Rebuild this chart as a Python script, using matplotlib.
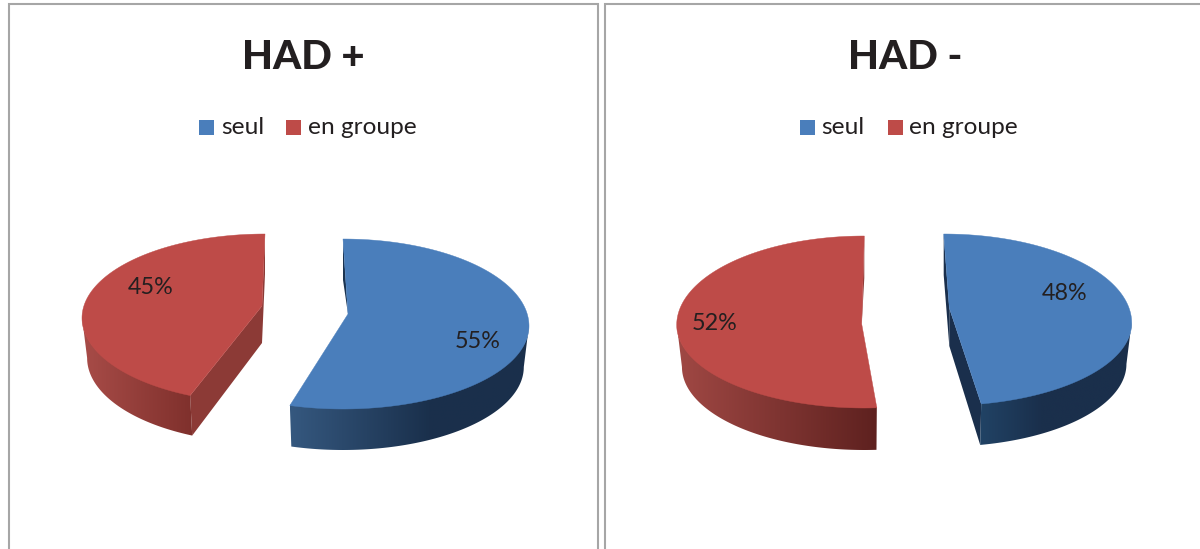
import numpy as np
import matplotlib
matplotlib.use("Agg")
import matplotlib.pyplot as plt
from matplotlib.colors import LinearSegmentedColormap
from matplotlib.patches import Polygon, Rectangle

plt.rcParams['font.family'] = ['Lato', 'DejaVu Sans']

titles = ["HAD +", "HAD -"]
categories = ["seul", "en groupe"]
seul_values = [55, 48]
groupe_values = [45, 52]

BLUE, RED = "#4a7ebb", "#be4b48"
INK = "#231f20"
GREY = "#a6a6a6"
BOTTOM_SHRINK = 0.972

fig = plt.figure(figsize=(12, 5.49), dpi=100, facecolor="white")
ax = fig.add_axes([0, 0, 1, 1])
ax.axis("off")


def arc(g, t, k=1.0):
    t = np.radians(t)
    r = np.where(np.cos(t) > 0, g["rt"], g["rb"])
    return g["cx"] + k * g["rx"] * np.sin(t), g["cy"] - r * np.cos(t)


def draw_slice(value, g, clockwise, face, stops, end_wall, start_wall, label_xy):
    span = 3.6 * value * g["sweep"]
    if clockwise:
        ts = np.linspace(0, span, 240)
        vis = np.linspace(90, span, 120)
    else:
        ts = np.linspace(-span, 0, 240)
        vis = np.linspace(-span, -90, 120)
    x, y = arc(g, ts)
    vx, vy = arc(g, vis)
    bx, by = arc(g, vis, BOTTOM_SHRINK)
    d = g["depth"]
    ax_, ay_ = g["apex"]

    # radial walls
    sx, sy = (float(v[0]) for v in arc(g, np.array([0.0])))
    if clockwise:
        ex, ey = float(x[-1]), float(y[-1])
        ebx = float(bx[-1])
    else:
        ex, ey = float(x[0]), float(y[0])
        ebx = float(bx[0])
    ax.add_patch(Polygon([(sx, sy), (sx, sy + d), (ax_, ay_ + g["apex_d"]), (ax_, ay_)],
                         closed=True, fc=start_wall, ec="none", zorder=2))
    if g["show_end"]:
        ax.add_patch(Polygon([(ax_, ay_), (ax_, ay_ + g["apex_d"]), (ebx, ey + d), (ex, ey)],
                             closed=True, fc=end_wall, ec="none", zorder=2))

    # curved wall: a horizontal gradient clipped to the wall outline
    cmap = LinearSegmentedColormap.from_list("wall", stops)
    outline = np.r_[np.c_[vx, vy - 1], np.c_[bx, by + d][::-1]]
    wall = Polygon(outline, closed=True, fc="none", ec="none", transform=ax.transData)
    ax.add_patch(wall)
    lo, hi = outline[:, 0].min(), outline[:, 0].max()
    im = ax.imshow(np.linspace(0, 1, 256).reshape(1, -1), cmap=cmap, vmin=0, vmax=1,
                   extent=(lo, hi, outline[:, 1].max(), outline[:, 1].min()),
                   aspect="auto", interpolation="bilinear", zorder=3)
    im.set_clip_path(wall)

    # top face
    ax.add_patch(Polygon(np.r_[np.c_[x, y], [[ax_, ay_]]], closed=True,
                         fc=face, ec=face, lw=0.3, zorder=4))
    ax.text(label_xy[0], label_xy[1], f"{value}%", ha="center", va="center",
            fontsize=16.8, color=INK, zorder=5)


slices = [
    (seul_values[0], dict(cx=343, cy=326, rx=186, rt=87, rb=83, sweep=0.993, depth=41,
                          apex=(348, 314), apex_d=0, show_end=False),
     True, BLUE, [(0, "#35587f"), (0.58, "#1a304c"), (1, "#1a2f4b")], "#1a2f4b", "#1a3350", (478, 342)),
    (groupe_values[0], dict(cx=265, cy=318, rx=183, rt=84, rb=85, sweep=0.962, depth=40,
                            apex=(262, 306), apex_d=37, show_end=True),
     False, RED, [(0, "#a84c48"), (1, "#7f302c")], "#8c3a36", "#8c3a36", (151, 288)),
    (seul_values[1], dict(cx=943.7, cy=323, rx=188, rt=89, rb=82.6, sweep=0.975, depth=41,
                          apex=(949.3, 308), apex_d=38, show_end=True),
     True, BLUE, [(0, "#214365"), (0.4, "#1a2f4c"), (1, "#1a2f4b")], "#1a2f4c", "#1a2f4c", (1065, 294)),
    (groupe_values[1], dict(cx=864.3, cy=325, rx=187.6, rt=89, rb=83, sweep=0.982, depth=42,
                            apex=(861.7, 324), apex_d=0, show_end=False),
     False, RED, [(0, "#a04844"), (1, "#5e211f")], "#8c3a36", "#8c3a36", (715, 324)),
]
for value, geom, cw, face, stops, end_wall, start_wall, lab in slices:
    draw_slice(value, geom, cw, face, stops, end_wall, start_wall, lab)

# panel frames
for xs, ys in [([9, 9, 598, 598], [549, 4, 4, 549]),
               ([605, 605, 1200], [549, 4, 4])]:
    ax.plot(xs, ys, color=GREY, lw=1.5, solid_joinstyle="miter", zorder=1)

# titles and legends
title_x = [303, 905]
legend_x = [(199, 221, 286, 308), (800, 821.5, 888, 909)]
for title, tx, lx in zip(titles, title_x, legend_x):
    ax.text(tx, 57.5, title, ha="center", va="center", fontsize=29,
            fontweight="black", color=INK)
    for name, col, sq, txt in [(categories[0], BLUE, lx[0], lx[1]),
                               (categories[1], RED, lx[2], lx[3])]:
        ax.add_patch(Rectangle((sq, 120), 15, 15, fc=col, ec="none"))
        ax.text(txt, 128, name, ha="left", va="center", fontsize=17.6, color=INK)

ax.set_xlim(0, 1200)
ax.set_ylim(549, 0)
fig.savefig("out.png", dpi=100)
